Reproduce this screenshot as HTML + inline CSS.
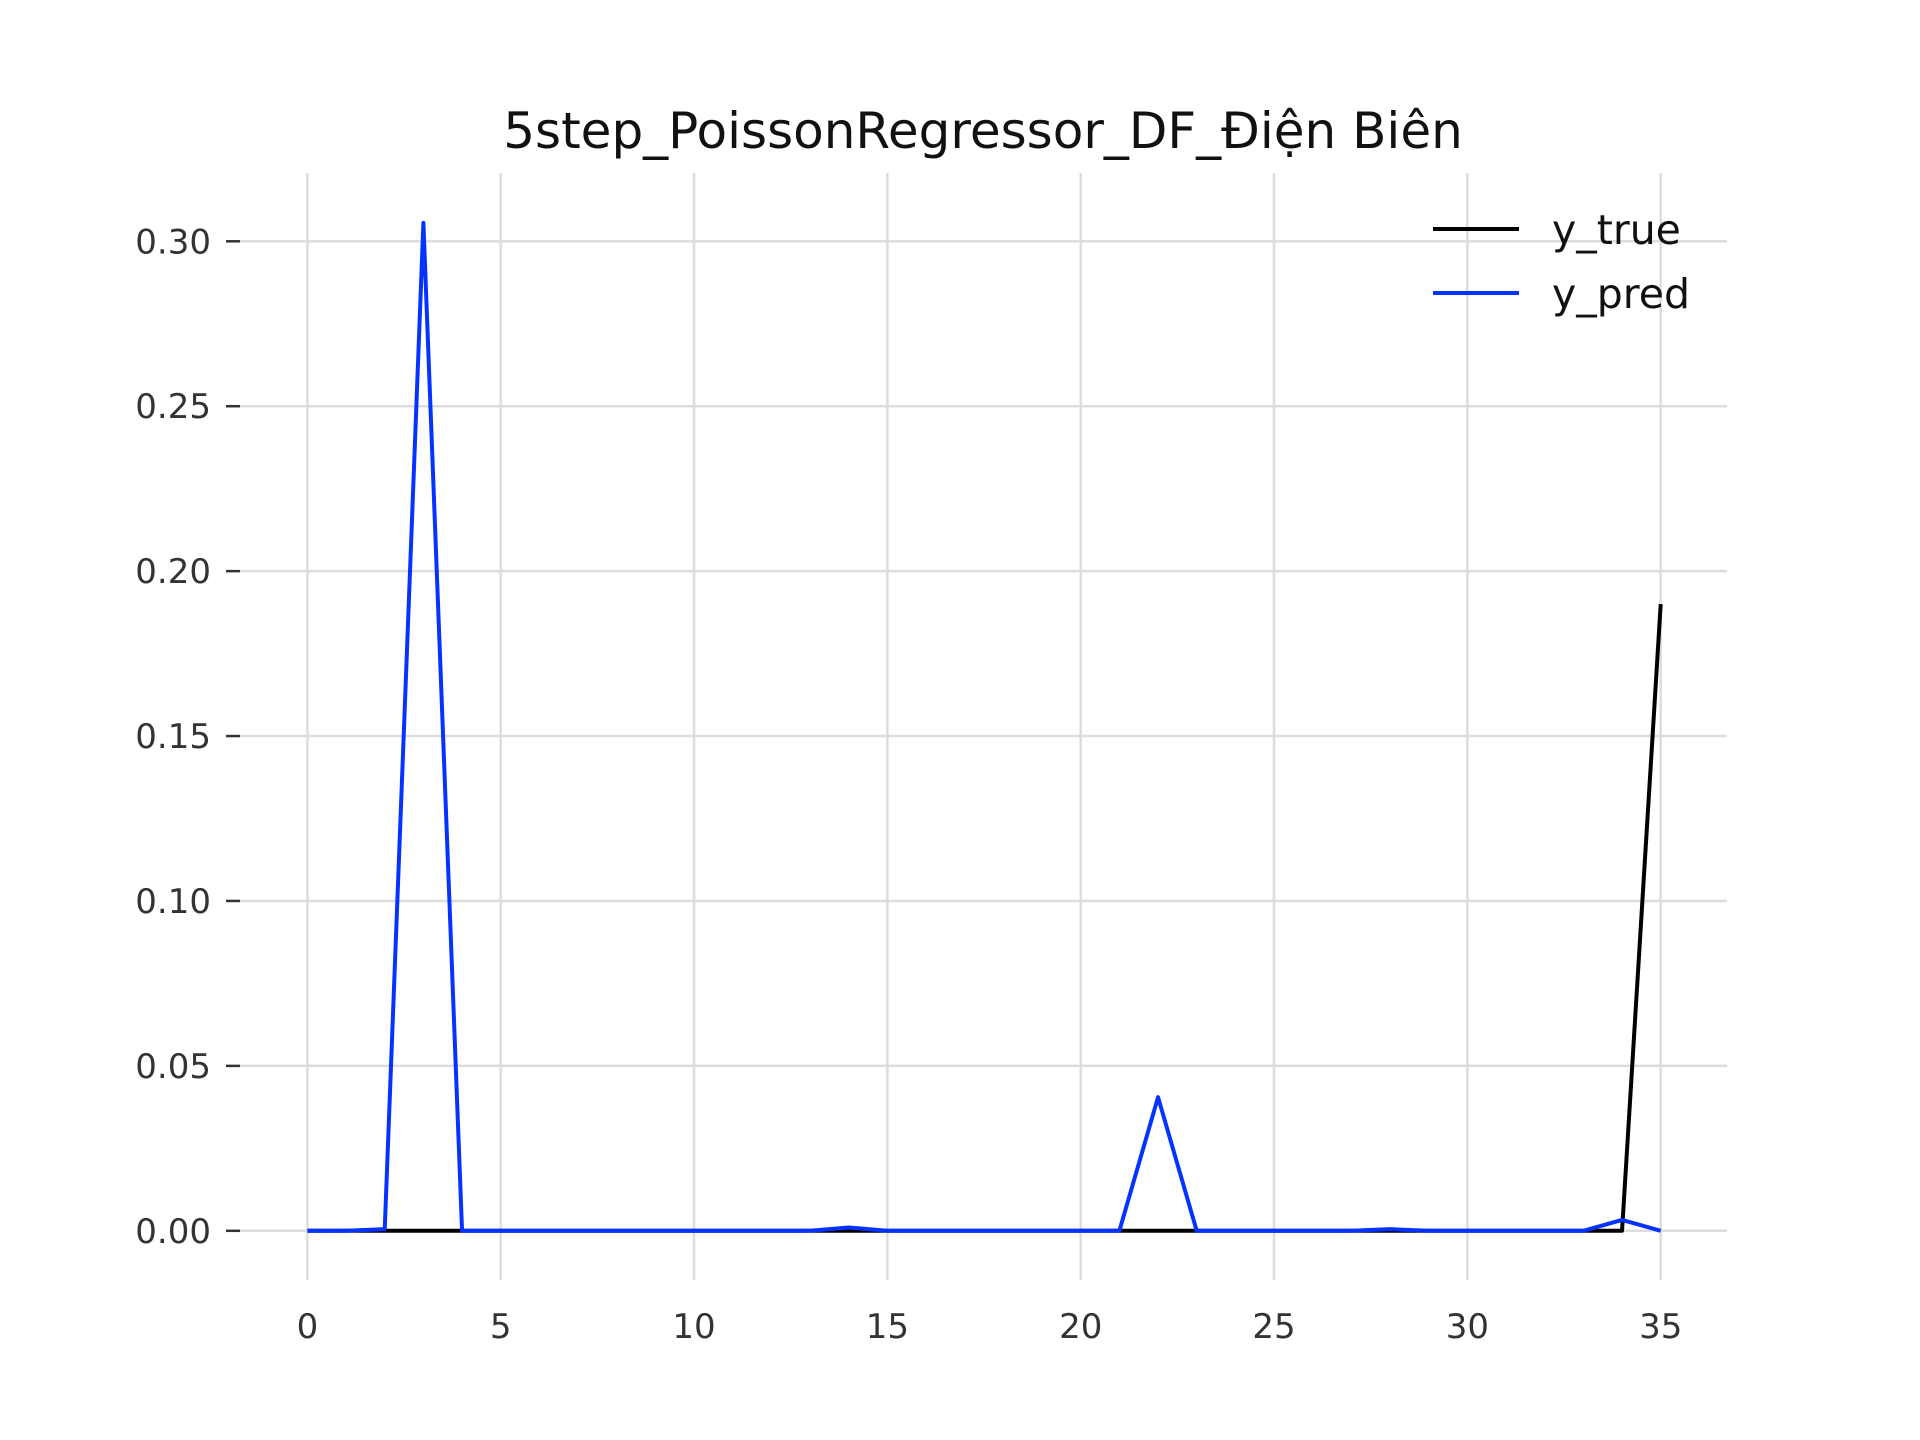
<!DOCTYPE html>
<html><head><meta charset="utf-8"><style>
html,body{margin:0;padding:0;background:#fff;}
svg{display:block;font-family:"DejaVu Sans","Liberation Sans",sans-serif;}
</style></head><body>
<svg id="chart" width="1920" height="1440" viewBox="0 0 1920 1440" xmlns="http://www.w3.org/2000/svg">
<rect width="1920" height="1440" fill="#fff"/>
<text x="983" y="148" text-anchor="middle" font-size="50" fill="#111">5step_PoissonRegressor_DF_Điện Biên</text>
<g id="grid"></g><g id="axes"></g><g id="series"></g>
<g>
<line x1="1433" y1="229" x2="1519" y2="229" stroke="#000" stroke-width="4"/>
<text x="1552" y="244" font-size="41" fill="#111">y_true</text>
<line x1="1433" y1="293" x2="1519" y2="293" stroke="#0433ff" stroke-width="4"/>
<text x="1552" y="308" font-size="41" fill="#111">y_pred</text>
</g>
</svg>
<script>
const xTicks=[0,5,10,15,20,25,30,35];
const yTicks=[0,0.05,0.10,0.15,0.20,0.25,0.30];
const yTickLabels=["0.00","0.05","0.10","0.15","0.20","0.25","0.30"];
const yTrue=[0,0,0,0,0,0,0,0,0,0,0,0,0,0,0,0,0,0,0,0,0,0,0,0,0,0,0,0,0,0,0,0,0,0,0,0.19];
const yPred=[0,0,0.0005,0.3056,0,0,0,0,0,0,0,0,0,0,0.001,0,0,0,0,0,0,0,0.0405,0,0,0,0,0,0.0005,0,0,0,0,0,0.0033,0];
const NS="http://www.w3.org/2000/svg";
function sx(v){return 307.4+v*(1660.7-307.4)/35;}
function sy(v){return 1230.8-v*(1230.8-241.3)/0.30;}
function mk(t,a,p){const e=document.createElementNS(NS,t);for(const k in a)e.setAttribute(k,a[k]);p.appendChild(e);return e;}
const grid=document.getElementById('grid'),axes=document.getElementById('axes'),series=document.getElementById('series');
xTicks.forEach(v=>{
 const l=mk('line',{x1:sx(v),x2:sx(v),y1:173,y2:1280,stroke:'#dddddd','stroke-width':2.5},grid);
 
 
 const t=mk('text',{x:sx(v),y:1338,'text-anchor':'middle','font-size':34,fill:'#333'},axes);
 t.textContent=v;
 
 
});
yTicks.forEach((v,i)=>{
 const l=mk('line',{x1:240,x2:1727,y1:sy(v),y2:sy(v),stroke:'#dddddd','stroke-width':2.5},grid);
 
 
 const k=mk('line',{x1:226,x2:240,y1:sy(v),y2:sy(v),stroke:'#333','stroke-width':2.5},axes);
 
 
 const t=mk('text',{x:211,y:sy(v)+12,'text-anchor':'end','font-size':34,fill:'#333'},axes);
 t.textContent=yTickLabels[i];
 
 
});
function pts(a){return a.map((v,i)=>sx(i)+','+sy(v)).join(' ');}
const p1=mk('polyline',{points:pts(yTrue),fill:'none',stroke:'#000','stroke-width':4,'stroke-linejoin':'round'},series);


const p2=mk('polyline',{points:pts(yPred),fill:'none',stroke:'#0433ff','stroke-width':4,'stroke-linejoin':'round'},series);


</script>
</body></html>
